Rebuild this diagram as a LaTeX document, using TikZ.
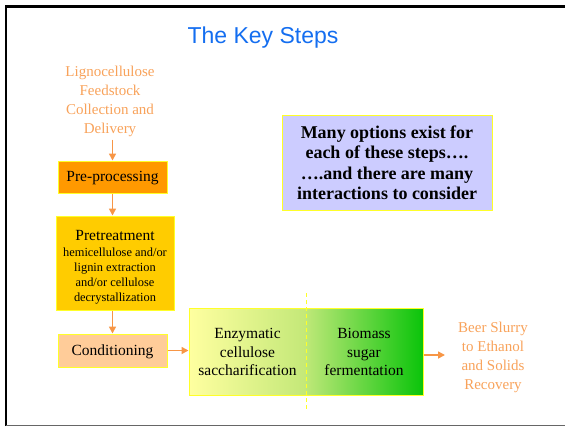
\documentclass[tikz,border=0pt]{standalone}
\usepackage{fontspec}
\setmainfont{Liberation Serif}
\newfontfamily\arialf{Liberation Sans}
\usetikzlibrary{arrows.meta}
\definecolor{titleblue}{RGB}{20,110,240}
\definecolor{orangetxt}{RGB}{248,162,90}
\definecolor{arrowor}{RGB}{247,150,70}
\definecolor{darkor}{RGB}{255,153,0}
\definecolor{gold}{RGB}{255,204,0}
\definecolor{peach}{RGB}{255,204,153}
\definecolor{lav}{RGB}{204,204,255}
\definecolor{bord}{RGB}{255,255,40}
\definecolor{palyel}{RGB}{255,255,160}
\definecolor{midgreen}{RGB}{195,232,120}
\definecolor{midgreenb}{RGB}{190,232,120}
\definecolor{deepgreen}{RGB}{10,196,10}
\newcommand{\smtxt}[1]{{\fontsize{12.4}{15}\selectfont #1}}
\tikzset{
  box/.style={draw=bord, line width=1pt, inner sep=0pt},
  btext/.style={align=center, font=\fontsize{15.5}{18}\selectfont, inner sep=0pt},
  otext/.style={text=orangetxt, align=center, font=\fontsize{15}{19}\selectfont, inner sep=0pt},
  flow/.style={draw=arrowor, line width=1.6pt, -{Triangle[length=7pt,width=7pt]}},
  gtext/.style={align=center, font=\fontsize{15.5}{18.5}\selectfont, inner sep=0pt}
}
\begin{document}
\begin{tikzpicture}[x=1pt,y=-1pt]
\useasboundingbox (0,0) rectangle (565,426);
% frame
\draw[line width=2.2pt] (6,426) -- (6,6.5) -- (565,6.5);
\draw[gray!80!black, line width=1.5pt] (6,425.3) -- (565,425.3);
% title
\node[text=titleblue, font=\arialf\fontsize{23}{27}\selectfont, inner sep=0pt] (title) at (263,38) {The Key Steps};
% source text
\node[otext] (src) at (110,101) {Lignocellulose\\Feedstock\\Collection and\\Delivery};
% boxes
\node[box, fill=darkor, minimum width=109pt, minimum height=32pt] (pre) at (112.5,177) {};
\node[btext] (pretext) at (112.5,178.5) {Pre-processing};
\node[box, fill=gold, minimum width=118pt, minimum height=94pt] (pt) at (115,263) {};
\node[btext] (pttext) at (115,267.5)
  {Pretreatment\\[-1.5pt]\smtxt{hemicellulose and/or}\\[-3pt]\smtxt{lignin extraction}\\[-3pt]\smtxt{and/or cellulose}\\[-3pt]\smtxt{decrystallization}};
\node[box, fill=peach, minimum width=109pt, minimum height=33pt] (cond) at (112.5,350.5) {};
\node[btext] (condtext) at (112.5,352) {Conditioning};
% gradient box
\shade[left color=palyel, right color=midgreen] (189,308) rectangle (306,395);
\shade[left color=midgreenb, right color=deepgreen] (306,308) rectangle (423,395);
\node[draw=bord, line width=1pt, minimum width=234pt, minimum height=87pt, inner sep=0pt] (gbox) at (306,351.5) {};
\draw[bord, line width=1pt, dash pattern=on 4pt off 3pt] (306,293) -- (306,410);
\node[gtext] (enz) at (247.5,352) {Enzymatic\\cellulose\\saccharification};
\node[gtext] (bio) at (364,352) {Biomass\\sugar\\fermentation};
% output text
\node[otext] (beer) at (493,357) {Beer Slurry\\to Ethanol\\and Solids\\Recovery};
% note box
\node[draw=bord, line width=1pt, fill=lav, minimum width=210pt, minimum height=95pt, inner sep=0pt, align=center,
  font=\bfseries\fontsize{18}{20.5}\selectfont] (note) at (387,162.5)
  {Many options exist for\\each of these steps….\\….and there are many\\interactions to consider};
% arrows
\draw[flow] (src.south -| pre.north) ++(0,3) -- (pre.north);
\draw[flow] (pre.south) -- (pt.north -| pre.south);
\draw[flow] (pt.south -| cond.north) -- (cond.north);
\draw[flow] (cond.east) -- (gbox.west |- cond.east);
\draw[flow] (gbox.east |- 0,355) -- (445,355) coordinate (outend);
\end{tikzpicture}
\end{document}
